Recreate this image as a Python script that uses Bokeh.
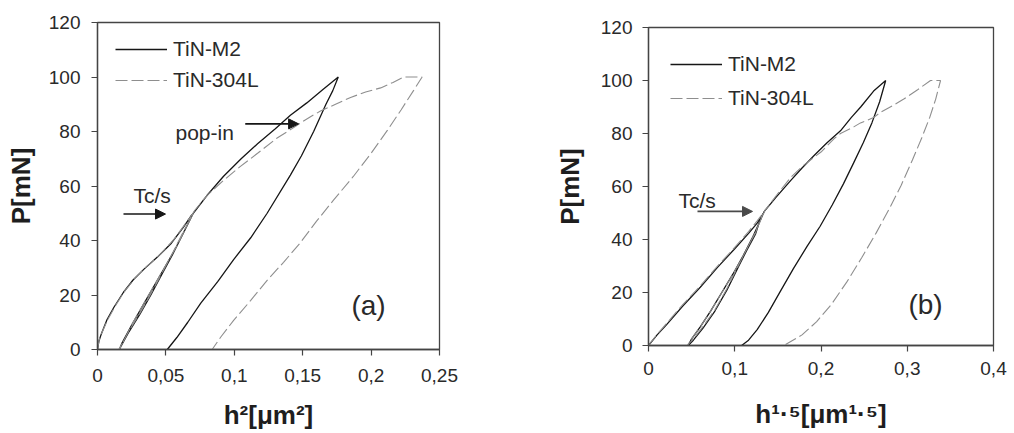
import math
from bokeh.plotting import figure
from bokeh.layouts import row, column
from bokeh.models import (Range1d, FixedTicker, Label, Arrow, NormalHead,
                          Legend, LegendItem)
from bokeh.embed import file_html
from bokeh.resources import INLINE

# ---------------- data ----------------
SERIES = ["TiN-M2", "TiN-304L"]

# panel (a): P vs h^2
A_M2_X = [0, 0.001, 0.003, 0.007, 0.012, 0.019, 0.026, 0.034, 0.044, 0.054, 0.063, 0.069,
          0.068, 0.063, 0.055, 0.047, 0.039, 0.031, 0.023, 0.017, 0.016,
          0.018, 0.025, 0.033, 0.041, 0.049, 0.057, 0.064, 0.070,
          0.080, 0.092, 0.105, 0.117, 0.130, 0.141, 0.153, 0.165, 0.176,
          0.172, 0.167, 0.158, 0.149, 0.141, 0.124, 0.112, 0.0995, 0.088, 0.0755, 0.066, 0.058, 0.051]
A_M2_P = [0, 3, 6, 11, 15.5, 21, 25.5, 29.5, 34, 39, 45, 49.5,
          48, 43, 35, 27.5, 20, 13, 6.5, 1, 0,
          2.5, 9, 16, 23, 30, 37, 44, 50,
          56.5, 63.5, 70, 75.5, 81, 86, 90.5, 95.5, 100,
          95, 90, 80, 71, 64, 50, 41, 33, 25, 17, 10, 4.4, 0]
A_304_X = [0, 0.0012, 0.0035, 0.0075, 0.013, 0.020, 0.028, 0.036, 0.046, 0.056, 0.064, 0.070,
           0.067, 0.062, 0.054, 0.046, 0.038, 0.030, 0.022, 0.0165, 0.0155,
           0.019, 0.026, 0.034, 0.042, 0.050, 0.058, 0.065, 0.071,
           0.080, 0.092, 0.104, 0.117, 0.131, 0.142, 0.148, 0.156, 0.163, 0.174, 0.185, 0.196, 0.207, 0.216, 0.224,
           0.2373,
           0.231, 0.222, 0.212, 0.200, 0.187, 0.1725, 0.160, 0.148, 0.136, 0.124, 0.112, 0.0995, 0.090, 0.0838]
A_304_P = [0, 3.5, 6.5, 11, 16, 21.5, 26.5, 30.5, 35, 40.5, 46, 50,
           47, 42.5, 34.5, 27, 19.5, 12.5, 6, 0.5, 0,
           3, 10, 17, 24, 31, 38, 45, 51,
           56.5, 62, 67, 72, 77.5, 81, 83, 85.5, 87.5, 90, 92.5, 94.5, 96, 98, 100,
           100,
           95, 88, 80.5, 72, 63.5, 54.8, 47, 39, 32, 25.4, 18, 10.7, 4.5, 0]

# panel (b): P vs h^1.5
B_M2_X = [0, 0.010, 0.020, 0.040, 0.060, 0.080, 0.100, 0.116, 0.126, 0.133,
          0.128, 0.124, 0.114, 0.104, 0.091, 0.077, 0.063, 0.052, 0.046,
          0.050, 0.060, 0.072, 0.085, 0.098, 0.110, 0.121, 0.128, 0.134,
          0.148, 0.165, 0.178, 0.192, 0.207, 0.2226, 0.235, 0.246, 0.261, 0.275,
          0.268, 0.259, 0.249, 0.238, 0.226, 0.213, 0.199, 0.184, 0.168, 0.153, 0.139, 0.126, 0.116, 0.108]
B_M2_P = [0, 4, 7.5, 15, 22, 29.5, 36.5, 42.3, 46.2, 49.8,
          46, 42, 36, 29.5, 21, 13, 6.5, 2, 0,
          2.5, 7, 13, 20, 27, 34, 41, 46, 50.5,
          56, 62.3, 67, 71.7, 76.5, 81, 86, 90, 96, 100,
          92, 84, 76.5, 69, 61, 53, 45, 37.5, 29, 20.5, 12.5, 6, 2, 0]
B_304_X = [0, 0.010, 0.020, 0.040, 0.060, 0.080, 0.100, 0.116, 0.126, 0.133,
           0.129, 0.124, 0.114, 0.104, 0.091, 0.077, 0.063, 0.052, 0.045,
           0.051, 0.061, 0.073, 0.086, 0.099, 0.111, 0.122, 0.129, 0.135,
           0.148, 0.165, 0.178, 0.1917, 0.200, 0.215, 0.2226, 0.238, 0.2458, 0.261, 0.269, 0.283, 0.296, 0.312, 0.327,
           0.3386,
           0.333, 0.326, 0.317, 0.306, 0.293, 0.279, 0.264, 0.247, 0.230, 0.212, 0.195, 0.178, 0.157]
B_304_P = [0, 4.2, 8, 15.5, 22.5, 30, 37, 43, 47, 50,
           46.5, 42.5, 36.5, 30, 21.5, 13.5, 7, 2.5, 0,
           3, 7.5, 13.5, 20.5, 27.5, 34.5, 41.5, 46.5, 51,
           56.5, 63.5, 67.5, 71, 73, 78, 80, 82.5, 84, 86, 88, 90.5, 93, 96.5, 100,
           100,
           93, 86, 78.5, 70, 60.5, 51.5, 42.5, 33, 24, 15.5, 9, 4, 0]

Y_TICKS = [0, 20, 40, 60, 80, 100, 120]
Y_TICK_LABELS = ["0", "20", "40", "60", "80", "100", "120"]
A_X_TICKS = [0, 0.05, 0.1, 0.15, 0.2, 0.25]
A_X_TICK_LABELS = ["0", "0,05", "0,1", "0,15", "0,2", "0,25"]
B_X_TICKS = [0, 0.1, 0.2, 0.3, 0.4]
B_X_TICK_LABELS = ["0", "0,1", "0,2", "0,3", "0,4"]
Y_TITLE = "P[mN]"
A_X_TITLE = "h²[μm²]"
B_X_TITLE = "h¹·⁵[μm¹·⁵]"

# ---------------- style ----------------
FONT = "Liberation Sans"
BLACK = "#161616"
GRAY = "#8e8e8e"
AXIS = "#444444"
TXT = "#2a2a2a"


def make_panel(xmax, xticks, xlabels, xtitle, m2x, m2p, s3x, s3p, width, height,
               borders, legend_loc, legend_spacing, panel_label, panel_xy,
               x_std, xlab_std, y_std, ylab_std, annotations):
    bl, br, bt, bb = borders
    p = figure(width=width, height=height, output_backend="svg",
               toolbar_location=None, x_range=Range1d(0, xmax),
               y_range=Range1d(0, 120), min_border_left=bl,
               min_border_right=br, min_border_top=bt, min_border_bottom=bb)
    p.grid.visible = False
    p.outline_line_color = AXIS
    p.outline_line_width = 1.3
    p.background_fill_color = "white"
    p.border_fill_color = "white"

    for ax, ticks, labels in ((p.xaxis[0], xticks, xlabels),
                              (p.yaxis[0], Y_TICKS, Y_TICK_LABELS)):
        ax.ticker = FixedTicker(ticks=ticks)
        ax.major_label_overrides = {t: l for t, l in zip(ticks, labels)}
        ax.major_tick_out = 6
        ax.major_tick_in = 0
        ax.minor_tick_out = 0
        ax.minor_tick_in = 0
        ax.axis_line_color = AXIS
        ax.axis_line_width = 1.3
        ax.major_tick_line_color = AXIS
        ax.major_tick_line_width = 1.2
        ax.major_label_text_font = FONT
        ax.major_label_text_font_size = "19px"
        ax.major_label_text_color = TXT
        ax.axis_label_text_font = FONT
        ax.axis_label_text_font_style = "bold"
        ax.axis_label_text_font_size = "26px"
        ax.axis_label_text_color = "#1e1e1e"
    p.xaxis[0].axis_label = xtitle
    p.yaxis[0].axis_label = Y_TITLE
    p.xaxis[0].major_label_standoff = x_std
    p.xaxis[0].axis_label_standoff = xlab_std
    p.yaxis[0].major_label_standoff = y_std
    p.yaxis[0].axis_label_standoff = ylab_std

    r1 = p.line(m2x, m2p, line_color=BLACK, line_width=1.3)
    r2 = p.line(s3x, s3p, line_color=GRAY, line_width=1.1, line_dash="12 4")

    leg = Legend(items=[LegendItem(label=SERIES[0], renderers=[r1]),
                        LegendItem(label=SERIES[1], renderers=[r2])],
                 location=legend_loc, padding=0, margin=0,
                 spacing=legend_spacing, glyph_width=52, glyph_height=20,
                 label_height=20, label_standoff=6, border_line_alpha=0,
                 background_fill_alpha=0, label_text_font=FONT,
                 label_text_font_size="21px", label_text_color=TXT)
    p.add_layout(leg)

    p.add_layout(Label(x=panel_xy[0], y=panel_xy[1], x_units="screen",
                       y_units="screen", text=panel_label, text_align="center",
                       text_baseline="middle", text_font=FONT,
                       text_font_size="28px", text_color=TXT))

    for (txt, tx, ty, ax0, ay0, ax1, ay1, col) in annotations:
        p.add_layout(Label(x=tx, y=ty, text=txt, text_align="left",
                           text_baseline="alphabetic", text_font=FONT,
                           text_font_size="21px", text_color=TXT))
        p.add_layout(Arrow(x_start=ax0, y_start=ay0, x_end=ax1, y_end=ay1,
                           line_color=col, line_width=1.6,
                           end=NormalHead(size=10, fill_color=col,
                                          line_color=col)))
    return p


# annotation: (text, text x, text baseline y, arrow x0, y0, x1, y1, colour)
ANN_A = [("Tc/s", 0.0263, 56.5, 0.019, 49.7, 0.0497, 49.7, BLACK),
         ("pop-in", 0.057, 79.5, 0.108, 82.8, 0.147, 82.8, BLACK)]
ANN_B = [("Tc/s", 0.0348, 54.7, 0.0568, 50.6, 0.1206, 50.6, "#4a4a4a")]

pa = make_panel(0.25, A_X_TICKS, A_X_TICK_LABELS, A_X_TITLE,
                A_M2_X, A_M2_P, A_304_X, A_304_P,
                width=506, height=433, borders=(97, 67, 22, 84),
                legend_loc=(18, 257), legend_spacing=7,
                panel_label="(a)", panel_xy=(271, 44),
                x_std=13, xlab_std=15, y_std=11, ylab_std=10,
                annotations=ANN_A)
pb = make_panel(0.4, B_X_TICKS, B_X_TICK_LABELS, B_X_TITLE,
                B_M2_X, B_M2_P, B_304_X, B_304_P,
                width=508, height=433, borders=(142, 21, 27, 88),
                legend_loc=(22, 235), legend_spacing=10,
                panel_label="(b)", panel_xy=(277, 41),
                x_std=10, xlab_std=21, y_std=10, ylab_std=13,
                annotations=ANN_B)

layout = row(column(pa), column(pb))
open("out.html", "w").write(file_html(layout, INLINE))
